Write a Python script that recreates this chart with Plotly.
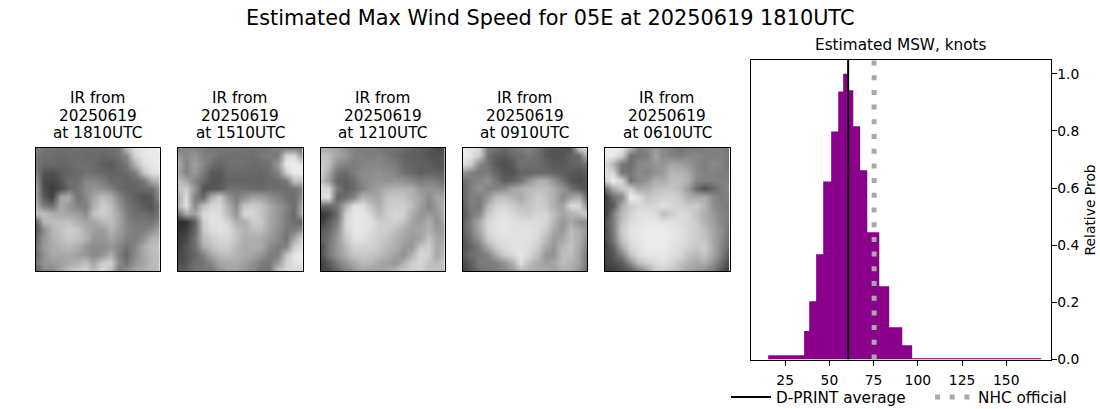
import plotly.graph_objects as go

W, H = 1100, 409

# histogramme (bacs de largeur variable)
bin_edges = [15.4, 35.7, 38.6, 42.5, 46.5, 51.0, 55.0, 57.8, 60.6, 63.5, 67.4, 71.4, 78.2, 83.8, 91.2, 96.8, 169.8]
rel_prob = [0.015, 0.100, 0.204, 0.368, 0.623, 0.798, 0.938, 1.000, 0.942, 0.816, 0.662, 0.445, 0.256, 0.113, 0.050, 0.004]
dprint_avg = 60.6
nhc_official = 75.3
x_ticks = [25, 50, 75, 100, 125, 150]
y_ticks = [0.0, 0.2, 0.4, 0.6, 0.8, 1.0]

ir_times = ["1810", "1510", "1210", "0910", "0610"]

# niveaux de gris lus sur chaque vignette IR
ir_1810 = [
    [125,120,115,110,110,115,110,110,110,115,115,190,225,230,235,235],
    [120,110,110,105,110,110,105,110,100,105,115,140,215,230,235,235],
    [115,105,105,100,105,110,110,105,95,90,105,120,180,225,230,235],
    [130,85,80,95,100,105,115,110,105,100,100,105,125,195,225,225],
    [150,75,70,85,110,110,135,135,125,105,105,100,105,120,170,190],
    [160,80,60,75,105,115,140,150,145,130,110,100,100,105,110,150],
    [165,90,65,165,175,115,135,165,190,175,135,110,95,85,90,145],
    [175,125,110,170,150,130,125,175,205,190,150,120,105,90,85,120],
    [190,190,175,170,165,160,140,195,205,195,165,125,110,110,100,120],
    [90,185,190,190,195,175,165,165,185,190,165,130,120,120,115,140],
    [85,140,180,195,205,200,175,160,155,180,160,135,125,125,140,165],
    [100,150,175,190,200,195,180,150,150,165,150,130,125,145,175,185],
    [110,155,170,180,185,175,150,140,140,150,135,115,135,170,190,195],
    [105,145,170,165,170,160,150,135,145,175,130,105,140,170,185,195],
    [115,150,155,160,170,175,190,165,205,210,140,115,150,165,185,190],
    [95,130,135,165,190,205,210,190,220,190,125,140,165,175,185,190],
]
ir_1510 = [
    [125,135,130,125,120,120,115,120,115,115,115,120,125,120,115,120],
    [155,135,150,130,125,115,115,110,115,110,120,125,120,215,220,150],
    [175,130,160,135,115,100,110,115,110,105,110,115,150,235,240,225],
    [165,130,155,125,90,90,105,105,105,105,100,110,130,205,235,235],
    [190,170,130,105,85,85,100,100,100,100,100,105,110,120,195,195],
    [195,205,150,85,85,90,110,115,110,105,105,110,110,110,115,130],
    [170,220,130,100,175,205,150,125,145,165,160,145,130,115,110,145],
    [180,225,140,190,215,215,175,140,200,205,195,170,150,130,110,170],
    [115,170,160,215,225,220,185,150,215,215,195,170,150,125,105,180],
    [45,50,95,205,225,225,210,175,175,205,200,170,150,125,110,100],
    [50,60,100,200,220,225,220,195,180,190,190,165,145,120,125,145],
    [60,70,115,185,205,215,215,195,175,175,170,155,140,115,165,215],
    [65,85,110,170,190,205,205,185,170,175,170,140,125,130,205,225],
    [70,85,100,130,170,185,190,180,170,165,150,125,125,195,230,235],
    [75,85,110,115,135,165,170,170,160,145,125,120,150,210,225,230],
    [85,100,115,120,120,145,160,160,150,135,120,115,195,215,220,215],
]
ir_1210 = [
    [175,170,165,145,130,125,125,120,115,115,110,100,95,85,70,75],
    [195,190,165,150,130,130,125,130,120,110,100,95,95,85,85,85],
    [205,190,140,130,125,130,135,135,130,125,105,100,95,95,85,85],
    [210,170,115,105,125,140,140,145,140,130,115,105,95,100,100,95],
    [195,155,100,95,110,135,145,150,145,150,145,135,125,130,125,110],
    [220,215,120,95,105,130,150,160,175,180,180,175,150,150,145,135],
    [220,230,100,110,130,180,170,165,195,200,195,180,165,140,165,165],
    [110,105,120,175,225,225,195,175,200,205,205,190,160,130,155,185],
    [50,70,110,205,230,230,215,185,205,215,210,175,150,155,150,180],
    [60,90,125,215,230,230,225,205,205,210,195,165,155,175,145,170],
    [85,105,140,210,230,230,220,210,205,190,175,160,165,175,155,155],
    [95,115,150,200,225,225,215,205,195,180,165,155,160,195,165,165],
    [75,120,150,185,210,210,210,200,185,175,155,150,200,205,170,180],
    [75,120,150,175,195,200,195,190,175,160,145,175,215,210,165,190],
    [60,90,125,150,170,185,185,170,160,150,175,205,215,195,185,200],
    [65,75,100,130,145,165,160,160,165,185,200,215,205,190,195,190],
]
ir_0910 = [
    [235,230,220,125,115,105,120,125,135,115,95,85,85,85,205,220],
    [235,230,205,115,95,90,105,110,120,110,90,85,85,100,105,180],
    [225,205,135,115,90,80,90,115,110,110,100,90,90,100,100,110],
    [150,130,120,125,105,85,85,100,100,105,105,100,95,90,85,95],
    [110,125,135,145,120,95,100,115,150,175,175,150,115,85,80,85],
    [105,125,145,130,130,140,165,175,185,190,190,175,150,115,95,85],
    [100,130,125,150,190,195,180,170,190,205,195,175,140,160,175,110],
    [90,125,120,180,210,215,205,190,195,205,200,175,160,220,220,145],
    [85,120,135,200,220,225,215,205,200,215,215,190,165,175,190,210],
    [95,130,170,215,225,230,225,220,220,220,215,185,150,170,145,140],
    [95,125,170,215,225,230,225,225,225,220,205,170,150,190,170,150],
    [85,115,150,205,220,225,225,225,225,215,190,155,165,190,175,140],
    [80,100,125,170,205,220,225,225,220,205,170,150,185,195,170,130],
    [90,110,120,130,170,205,220,230,215,190,150,145,190,190,165,115],
    [70,95,125,125,125,150,175,225,190,170,160,165,190,180,165,120],
    [65,85,110,120,125,130,150,180,175,170,175,160,175,170,150,110],
]
ir_0610 = [
    [235,240,235,185,125,135,150,135,125,115,120,120,125,130,125,120],
    [235,235,210,115,120,125,165,140,130,125,135,135,130,125,130,120],
    [220,180,120,110,135,140,150,150,165,160,150,135,125,140,130,115],
    [225,215,120,120,140,130,145,155,185,180,170,140,130,130,125,125],
    [205,240,215,115,135,150,175,170,190,190,175,135,130,130,130,130],
    [110,170,200,210,170,175,190,195,195,185,155,105,80,105,125,135],
    [60,110,135,235,225,195,205,210,210,200,175,170,175,140,125,130],
    [70,90,170,205,215,215,215,225,215,210,200,205,180,140,130,120],
    [60,125,185,210,225,225,220,190,205,220,215,195,175,155,135,125],
    [85,125,195,220,225,230,230,225,225,220,215,205,175,160,135,120],
    [75,125,205,225,230,235,235,235,230,225,215,205,190,165,145,115],
    [75,120,195,225,230,235,235,235,230,225,215,205,195,165,140,110],
    [65,100,170,215,225,235,235,235,225,220,210,200,205,170,135,100],
    [70,85,130,195,220,230,230,230,225,215,195,185,195,165,130,85],
    [65,75,90,140,190,210,220,225,215,195,180,170,175,145,110,70],
    [55,65,75,90,120,155,200,205,195,180,160,150,140,120,85,60],
]
ir_grids = [ir_1810, ir_1510, ir_1210, ir_0910, ir_0610]

FONT = "DejaVu Sans"

# positions des axes en pixels
panel_left = [35.5, 178, 320.5, 462.5, 605]
panel_w = 124.5
panel_top, panel_bottom = 147.5, 271
hist_left, hist_right, hist_top, hist_bottom = 750.5, 1050.5, 59.5, 359.5


def px(x):
    return x / W


def py(y):
    return 1 - y / H


def label(text, x, y, size, angle=0):
    return dict(text=text, xref="paper", yref="paper", x=px(x), y=py(y), xanchor="center", yanchor="middle",
                textangle=angle, showarrow=False, font=dict(family=FONT, size=size, color="black"))


fig = go.Figure()
annots = []
layout_axes = {}

for i, grid in enumerate(ir_grids):
    n = str(i + 1) if i > 0 else ""
    fig.add_trace(go.Heatmap(z=grid, zmin=0, zmax=255, zsmooth="best", showscale=False, hoverinfo="skip",
                             colorscale=[[0, "black"], [1, "white"]], xaxis="x" + n, yaxis="y" + n))
    layout_axes["xaxis" + n] = dict(domain=[px(panel_left[i]), px(panel_left[i] + panel_w)], anchor="y" + n,
                                    showticklabels=False, ticks="", showgrid=False, zeroline=False,
                                    range=[0, 15], showline=True, mirror=True, linecolor="black", linewidth=1)
    layout_axes["yaxis" + n] = dict(domain=[py(panel_bottom), py(panel_top)], anchor="x" + n,
                                    showticklabels=False, ticks="", showgrid=False, zeroline=False,
                                    range=[15, 0], showline=True, mirror=True, linecolor="black", linewidth=1)
    # titre sur trois lignes, chaque ligne placée à part
    cx = panel_left[i] + panel_w / 2
    annots.append(label("IR from", cx, 98, 15.28))
    annots.append(label("20250619", cx, 115.5, 15.28))
    annots.append(label("at " + ir_times[i] + "UTC", cx, 133, 15.28))

# histogramme en escalier, sans joints entre les bacs
fig.add_trace(go.Scatter(x=bin_edges, y=rel_prob + [rel_prob[-1]], mode="lines", line=dict(shape="hv", width=0, color="#8b008b"),
                         fill="tozeroy", fillcolor="#8b008b", showlegend=False, hoverinfo="skip",
                         xaxis="x6", yaxis="y6"))
fig.add_trace(go.Scatter(x=[dprint_avg, dprint_avg], y=[0, 1.05], mode="lines", name="D-PRINT average",
                         line=dict(color="black", width=2), xaxis="x6", yaxis="y6", legend="legend"))
fig.add_trace(go.Scatter(x=[nhc_official, nhc_official], y=[0, 1.05], mode="lines", name="NHC official",
                         line=dict(color="darkgray", width=5, dash="5px,9.7px"), xaxis="x6", yaxis="y6", legend="legend2"))

layout_axes["xaxis6"] = dict(domain=[px(hist_left), px(hist_right)], anchor="y6", range=[5.4, 175],
                             tickvals=x_ticks, ticks="outside", ticklen=5, tickwidth=1, tickcolor="black",
                             showgrid=False, zeroline=False, showline=True, mirror=True, linecolor="black",
                             linewidth=1, automargin=False, ticklabelstandoff=3,
                             tickfont=dict(family=FONT, size=13.89, color="black"))
layout_axes["yaxis6"] = dict(domain=[py(hist_bottom), py(hist_top)], anchor="x6", side="right", range=[0, 1.05],
                             tickvals=y_ticks, tickformat=".1f", ticks="outside", ticklen=5, tickwidth=1,
                             tickcolor="black", showgrid=False, zeroline=False, showline=True, mirror=True,
                             linecolor="black", linewidth=1, automargin=False, ticklabelstandoff=-2,
                             tickfont=dict(family=FONT, size=13.89, color="black"))

annots.append(label("Estimated Max Wind Speed for 05E at 20250619 1810UTC", 550, 18, 20.83))
annots.append(label("Estimated MSW, knots", 900, 45, 15.28))
annots.append(label("Relative Prob", 1089.5, 210, 13.89, angle=-90))

legend_font = dict(family=FONT, size=15.28, color="black")
fig.update_layout(width=W, height=H, margin=dict(l=0, r=0, t=0, b=0, autoexpand=False), paper_bgcolor="white",
                  plot_bgcolor="white", annotations=annots,
                  legend=dict(x=px(726), y=py(397), xanchor="left", yanchor="middle", itemwidth=40,
                              bgcolor="rgba(0,0,0,0)", font=legend_font),
                  legend2=dict(x=px(930), y=py(397), xanchor="left", yanchor="middle", itemwidth=38,
                               bgcolor="rgba(0,0,0,0)", font=legend_font),
                  **layout_axes)

fig.write_html("out.html", config=dict(displayModeBar=False), post_script="document.body.style.margin='0';")
